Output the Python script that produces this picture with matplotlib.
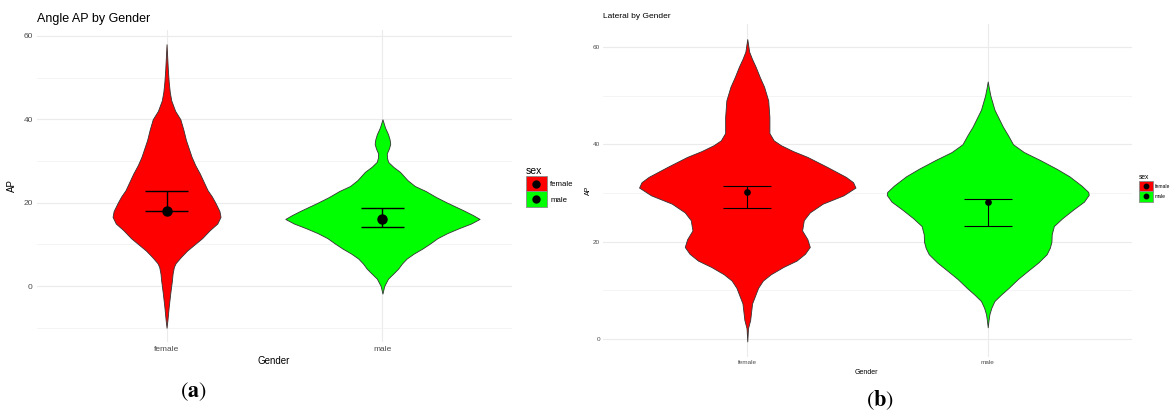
import numpy as np
import matplotlib
matplotlib.use("Agg")
import matplotlib.pyplot as plt
from matplotlib.patches import Patch, Rectangle
from matplotlib.lines import Line2D
from matplotlib.legend_handler import HandlerBase

plt.rcParams["font.family"] = ["Liberation Sans", "DejaVu Sans"]
plt.rcParams["mathtext.fontset"] = "stix"

groups = ["female", "male"]
group_colors = ["#FF0000", "#00FF00"]

# violin outlines: AP value -> half width (x units)
ap_female_y = [58, 55, 52, 49, 46.5, 44.5, 42, 40, 37.5, 35, 33, 31, 29, 27, 25, 23,
               21.5, 20, 18, 16.6, 15, 13.4, 11.5, 10, 8.5, 7, 5.5, 4.6, 3, 1.4,
               -1.8, -5, -8.2, -10]
ap_female_w = [0, 0.003, 0.006, 0.01, 0.015, 0.022, 0.04, 0.064, 0.078, 0.09, 0.103,
               0.116, 0.133, 0.154, 0.172, 0.19, 0.21, 0.226, 0.245, 0.25, 0.235, 0.2,
               0.165, 0.13, 0.095, 0.067, 0.042, 0.034, 0.028, 0.025, 0.017, 0.01,
               0.004, 0]
ap_male_y = [40, 39, 38, 36.4, 35.2, 34.1, 33, 31.8, 30.8, 29.8, 28.6, 27.4, 25.4, 24,
             22.8, 21.3, 20, 18.1, 17, 16.1, 15, 13.9, 12.7, 11.5, 10.2, 9, 7.8, 6.6,
             5.4, 4.2, 3, 1.8, 0, -1.8]
ap_male_w = [0, 0.006, 0.012, 0.026, 0.033, 0.036, 0.03, 0.02, 0.021, 0.026, 0.05,
             0.081, 0.116, 0.15, 0.2, 0.25, 0.3, 0.378, 0.42, 0.45, 0.41, 0.355, 0.3,
             0.255, 0.22, 0.185, 0.145, 0.112, 0.09, 0.073, 0.05, 0.026, 0.008, 0]

lat_female_y = [61.6, 59, 57.5, 55.9, 53.8, 51.8, 49, 45.6, 42.3, 40.8, 39.8, 38.6,
                37.4, 35.4, 33.3, 32.2, 31.1, 29.5, 27.8, 26, 24.4, 22.3, 20.5, 18.9,
                17.5, 16.1, 14.8, 13.3, 12, 10.5, 7.3, 3.9, 2.2, -0.5]
lat_female_w = [0, 0.008, 0.02, 0.035, 0.052, 0.07, 0.087, 0.092, 0.092, 0.11, 0.14,
                0.19, 0.25, 0.33, 0.41, 0.44, 0.45, 0.4, 0.314, 0.26, 0.235, 0.228,
                0.25, 0.26, 0.24, 0.205, 0.15, 0.098, 0.065, 0.045, 0.02, 0.012,
                0.003, 0]
lat_male_y = [52.9, 51.5, 50, 47.1, 45.4, 43.6, 41.8, 40, 38.4, 36.8, 35, 33.4, 31.5,
              30.2, 29.6, 28.2, 26.6, 24.8, 23.2, 21.5, 20, 18.7, 17.4, 15.7, 14,
              12.3, 10.5, 9.1, 7.8, 6.4, 5.1, 3.7, 2.4]
lat_male_w = [0, 0.005, 0.011, 0.028, 0.045, 0.063, 0.085, 0.105, 0.15, 0.216, 0.285,
              0.34, 0.39, 0.418, 0.42, 0.4, 0.356, 0.31, 0.275, 0.266, 0.265, 0.258,
              0.245, 0.21, 0.167, 0.125, 0.087, 0.055, 0.028, 0.015, 0.007, 0.003, 0]

# point + error bar per group
ap_mean = [18.1, 16.1]
ap_low = [18.1, 14.1]
ap_high = [22.7, 18.7]
lat_mean = [30.1, 28.1]
lat_low = [27.0, 23.3]
lat_high = [31.4, 28.8]

ap_ticks = [0, 20, 40, 60]
ap_minor = [-10, 10, 30, 50]
lat_ticks = [0, 20, 40, 60]
lat_minor = [10, 30, 50]

W, H = 1176, 412


class KeyWithDot(HandlerBase):
    """ggplot-style legend key: filled box with a black dot in the middle."""

    def __init__(self, dot_size):
        super().__init__()
        self.dot_size = dot_size

    def create_artists(self, legend, orig_handle, xdescent, ydescent, width, height,
                       fontsize, trans):
        box = Rectangle((-xdescent, -ydescent), width, height,
                        facecolor=orig_handle.get_facecolor(), edgecolor="#8C8C8C",
                        linewidth=0.6, transform=trans)
        dot = Line2D([-xdescent + width / 2], [-ydescent + height / 2], marker="o",
                     color="black", linestyle="", markersize=self.dot_size,
                     transform=trans)
        return [box, dot]


def fig_rect(x0, y0, x1, y1):
    return [x0 / W, 1 - y1 / H, (x1 - x0) / W, (y1 - y0) / H]


def draw_panel(ax, shapes, mean, low, high, ylim, ticks, minor, tick_fs, pad_y, pad_x,
               marker_size, err_lw):
    pos = np.arange(1, len(groups) + 1)
    for i, (ys, ws) in enumerate(shapes):
        ys = np.array(ys)
        ws = np.array(ws)
        ax.fill_betweenx(ys, pos[i] - ws, pos[i] + ws, facecolor=group_colors[i],
                         edgecolor="#333333", linewidth=0.6, zorder=2)
    mean = np.array(mean)
    yerr = [mean - np.array(low), np.array(high) - mean]
    ax.errorbar(pos, mean, yerr=yerr, fmt="none", ecolor="black", elinewidth=err_lw,
                capsize=0, zorder=3)
    for i in range(len(groups)):
        ax.hlines([low[i], high[i]], pos[i] - 0.1, pos[i] + 0.1, colors="black",
                  linewidth=err_lw, zorder=3)
    ax.plot(pos, mean, "o", color="black", markersize=marker_size, zorder=4)

    ax.set_xlim(0.4, 2.6)
    ax.set_ylim(*ylim)
    ax.set_xticks(pos)
    ax.set_xticklabels(groups)
    ax.set_yticks(ticks)
    ax.set_yticks(minor, minor=True)
    ax.tick_params(axis="both", which="both", length=0, labelsize=tick_fs,
                   labelcolor="#4D4D4D")
    ax.tick_params(axis="y", pad=pad_y)
    ax.tick_params(axis="x", pad=pad_x)
    ax.grid(True, which="major", color="#EBEBEB", linewidth=0.8, zorder=0)
    ax.grid(True, which="minor", axis="y", color="#F2F2F2", linewidth=0.6, zorder=0)
    ax.set_axisbelow(True)
    for s in ax.spines.values():
        s.set_visible(False)


def add_legend(fig, anchor, fs, title_fs, box_pt, dot_size):
    handles = [Patch(facecolor=c) for c in group_colors]
    leg = fig.legend(handles, groups, title="sex", loc="upper left",
                     bbox_to_anchor=anchor, frameon=False, fontsize=fs,
                     title_fontsize=title_fs, handler_map={Patch: KeyWithDot(dot_size)},
                     handlelength=box_pt / fs, handleheight=box_pt / fs,
                     labelspacing=0.0, handletextpad=0.45, borderpad=0,
                     borderaxespad=0, alignment="left")
    return leg


fig = plt.figure(figsize=(W / 100, H / 100), dpi=100)

# panel (a)
ax_a = fig.add_axes(fig_rect(37, 30, 512, 342))
draw_panel(ax_a, [(ap_female_y, ap_female_w), (ap_male_y, ap_male_w)], ap_mean, ap_low,
           ap_high, (-13.4, 61.4), ap_ticks, ap_minor, 6, 3, 3, 6.5, 1.0)
ax_a.set_title("Angle AP by Gender", loc="left", fontsize=9, pad=6)
fig.text(274 / W, 1 - 361 / H, "Gender", ha="center", va="center", fontsize=7)
fig.text(12 / W, 1 - 186 / H, "AP", ha="center", va="center", fontsize=7, rotation=90)
add_legend(fig, (526 / W, 1 - 166 / H), 5.6, 7.5, 15, 5)
fig.text(193 / W, 1 - 392 / H, r"$(\mathbf{a})$", ha="center", va="center", fontsize=16)

# panel (b)
ax_b = fig.add_axes(fig_rect(603, 24, 1132, 356.5))
draw_panel(ax_b, [(lat_female_y, lat_female_w), (lat_male_y, lat_male_w)], lat_mean,
           lat_low, lat_high, (-3.6, 64.7), lat_ticks, lat_minor, 4.6, 2, 2.5, 3.8, 0.8)
ax_b.set_title("Lateral by Gender", loc="left", fontsize=6, pad=4)
fig.text(866 / W, 1 - 372 / H, "Gender", ha="center", va="center", fontsize=5)
fig.text(588 / W, 1 - 190 / H, "AP", ha="center", va="center", fontsize=5, rotation=90)
add_legend(fig, (1139 / W, 1 - 174 / H), 3.6, 4.8, 10, 3.2)
fig.text(880 / W, 1 - 400 / H, r"$(\mathbf{b})$", ha="center", va="center", fontsize=16)

fig.savefig("out.png", dpi=100)
plt.close(fig)
